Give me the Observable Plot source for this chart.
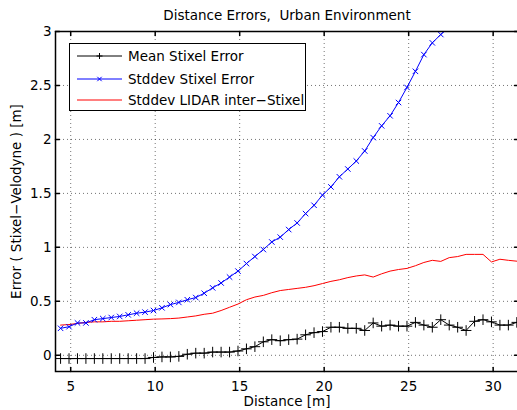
<!DOCTYPE html>
<html><head><meta charset="utf-8">
<script src="https://cdn.jsdelivr.net/npm/d3@7"></script>
<script src="https://cdn.jsdelivr.net/npm/@observablehq/plot@0.6"></script>
<style>
html,body{margin:0;padding:0;background:#fff;}
#wrap{position:relative;width:517px;height:410px;font-family:"DejaVu Sans",sans-serif;overflow:hidden;}
#title{height:28px;line-height:31px;text-align:center;font-size:13.5px;padding-left:57px;box-sizing:border-box;white-space:pre;}
#legend{position:absolute;left:69px;top:43px;}
</style></head>
<body>
<div id="wrap">
<div id="title"></div>
<div id="chart"></div>
<div id="legend"></div>
</div>
<script>
const title = "Distance Errors,  Urban Environment";
const distance = [4.4,4.9,5.4,5.9,6.4,6.9,7.4,7.9,8.4,8.9,9.4,9.9,10.4,10.9,11.4,11.9,12.4,12.9,13.4,13.9,14.4,14.9,15.4,15.9,16.4,16.9,17.4,17.9,18.4,18.9,19.4,19.9,20.4,20.9,21.4,21.9,22.4,22.9,23.4,23.9,24.4,24.9,25.4,25.9,26.4,26.9,27.4,27.9,28.4,28.9,29.4,29.9,30.4,30.9,31.4];
const meanStixelError = [-0.03,-0.03,-0.03,-0.03,-0.03,-0.03,-0.03,-0.03,-0.03,-0.03,-0.03,-0.02,-0.015,-0.015,-0.01,0.01,0.02,0.02,0.03,0.03,0.03,0.04,0.06,0.08,0.125,0.145,0.135,0.145,0.15,0.19,0.21,0.22,0.26,0.26,0.25,0.25,0.23,0.30,0.27,0.28,0.27,0.27,0.305,0.28,0.26,0.33,0.28,0.26,0.23,0.315,0.33,0.31,0.28,0.28,0.305];
const stddevStixelError = [0.25,0.265,0.30,0.30,0.33,0.34,0.35,0.36,0.375,0.39,0.40,0.415,0.44,0.47,0.49,0.515,0.535,0.575,0.625,0.67,0.725,0.78,0.85,0.915,0.98,1.05,1.095,1.165,1.226,1.313,1.39,1.484,1.56,1.654,1.726,1.80,1.893,2.017,2.126,2.219,2.342,2.482,2.631,2.786,2.895,2.972,3.04];
const stddevLidar = [0.28,0.285,0.295,0.305,0.31,0.31,0.315,0.315,0.32,0.325,0.33,0.335,0.337,0.34,0.345,0.355,0.365,0.38,0.39,0.415,0.445,0.475,0.515,0.54,0.555,0.58,0.60,0.61,0.62,0.63,0.645,0.665,0.685,0.70,0.72,0.735,0.745,0.725,0.755,0.78,0.795,0.805,0.83,0.86,0.88,0.87,0.905,0.915,0.935,0.935,0.935,0.865,0.89,0.88,0.872];
const seriesNames = ["Mean Stixel Error","Stddev Stixel Error","Stddev LIDAR inter\u2212Stixel"];
const seriesColors = ["black","blue","red"];
const xTicks = [5,10,15,20,25,30];
const yTicks = [0,0.5,1,1.5,2,2.5,3];
const xLabel = "Distance [m]";
const yLabel = "Error ( Stixel\u2212Velodyne ) [m]";

document.getElementById("title").textContent = title;

const mean = meanStixelError.map((v,i)=>({x:distance[i],y:v}));
const std = stddevStixelError.map((v,i)=>({x:distance[i],y:v}));
const lidar = stddevLidar.map((v,i)=>({x:distance[i],y:v}));

const tickShape = {draw(ctx, l){ ctx.moveTo(0,0); ctx.lineTo(0,-l); }};
const T = 4;

const chart = Plot.plot({
  width: 517, height: 382,
  marginLeft: 55, marginRight: -1, marginTop: 3, marginBottom: 39,
  x: {domain: [4.1, 31.5]},
  y: {domain: [-0.15, 3]},
  style: {fontFamily: "DejaVu Sans", fontSize: "13.5px", color: "black", background: "white", overflow: "visible"},
  marks: [
    Plot.gridX(xTicks, {stroke: "#000", strokeOpacity: 0.55, strokeDasharray: "1,3"}),
    Plot.gridY(yTicks, {stroke: "#000", strokeOpacity: 0.55, strokeDasharray: "1,3"}),
    Plot.line(lidar, {x: "x", y: "y", stroke: seriesColors[2], strokeWidth: 1, clip: true}),
    Plot.line(std, {x: "x", y: "y", stroke: seriesColors[1], strokeWidth: 1, clip: true}),
    Plot.dot(std, {x: "x", y: "y", symbol: "times", r: 2.6, stroke: seriesColors[1], strokeWidth: 1, clip: true}),
    Plot.line(mean, {x: "x", y: "y", stroke: seriesColors[0], strokeWidth: 1, clip: true}),
    Plot.dot(mean, {x: "x", y: "y", symbol: "plus", r: 3.5, stroke: seriesColors[0], strokeWidth: 1, clip: true}),
    Plot.vector(xTicks, {x: d=>d, frameAnchor: "bottom", length: T, rotate: 0, anchor: "start", shape: tickShape, stroke: "black"}),
    Plot.vector(xTicks, {x: d=>d, frameAnchor: "top", length: T, rotate: 180, anchor: "start", shape: tickShape, stroke: "black"}),
    Plot.vector(yTicks, {y: d=>d, frameAnchor: "left", length: T, rotate: 90, anchor: "start", shape: tickShape, stroke: "black"}),
    Plot.vector(yTicks, {y: d=>d, frameAnchor: "right", length: T, rotate: -90, anchor: "start", shape: tickShape, stroke: "black"}),
    Plot.axisX(xTicks, {tickSize: 0, tickPadding: 10, label: xLabel, labelAnchor: "center", labelOffset: 34, labelArrow: "none"}),
    Plot.axisY(yTicks, {tickSize: 0, tickPadding: 4, tickFormat: d => String(d), label: yLabel, labelAnchor: "center", labelOffset: 44, labelArrow: "none"}),
    Plot.frame({stroke: "black", strokeWidth: 1.5})
  ]
});
document.getElementById("chart").appendChild(chart);

// legend
const ns = "http://www.w3.org/2000/svg";
const lg = document.createElementNS(ns, "svg");
lg.setAttribute("width", 237); lg.setAttribute("height", 68);
lg.style.display = "block";
const rowsY = [13, 36, 57];
let html = `<rect x="0.5" y="0.5" width="236" height="67" fill="white" stroke="black" stroke-width="1"/>`;
seriesNames.forEach((name, i) => {
  const y = rowsY[i];
  html += `<line x1="8" x2="53" y1="${y}" y2="${y}" stroke="${seriesColors[i]}" stroke-width="1"/>`;
  if (i === 0) html += `<path d="M30.5,${y-3}V${y+3}M27.5,${y}H33.5" stroke="black" fill="none"/>`;
  if (i === 1) html += `<path d="M28.3,${y-2.2}L32.7,${y+2.2}M28.3,${y+2.2}L32.7,${y-2.2}" stroke="blue" fill="none"/>`;
  html += `<text x="59" y="${y}" dy="0.35em" font-family="DejaVu Sans" font-size="13.5" fill="black"></text>`;
});
lg.innerHTML = html;
lg.querySelectorAll("text").forEach((t,i)=> t.textContent = seriesNames[i]);
document.getElementById("legend").appendChild(lg);
</script>
</body></html>
